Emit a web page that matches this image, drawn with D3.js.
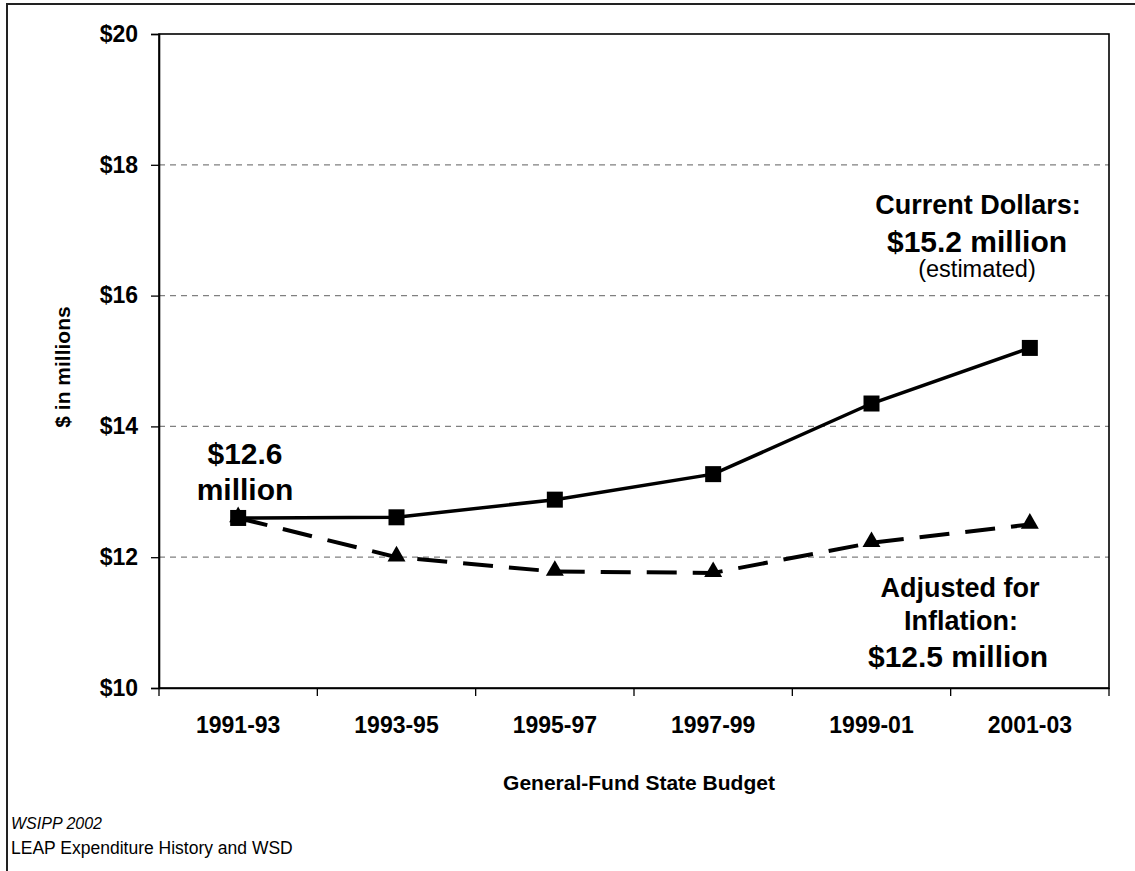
<!DOCTYPE html>
<html>
<head>
<meta charset="utf-8">
<script src="https://cdn.jsdelivr.net/npm/d3@7"></script>
<style>
  html, body { margin: 0; padding: 0; background: #fff; }
  svg { display: block; font-family: Arial, "Liberation Sans", Helvetica, sans-serif; }
</style>
</head>
<body>
<svg id="chart" width="1135" height="871"></svg>
<script>
// Biennial budget periods
const categories = ["1991-93", "1993-95", "1995-97", "1997-99", "1999-01", "2001-03"];
// Spending in current dollars ($ millions)
const currentDollars = [12.6, 12.61, 12.88, 13.27, 14.35, 15.2];
// Spending adjusted for inflation ($ millions)
const adjustedDollars = [12.6, 12.0, 11.78, 11.76, 12.22, 12.5];
// Value axis ticks
const yTicks = [10, 12, 14, 16, 18, 20];

const svg = d3.select("#chart");
const W = 1135, H = 871;
const plot = { left: 159, right: 1109, top: 34, bottom: 688 };

// Outer frame
svg.append("rect")
  .attr("x", 7).attr("y", 4)
  .attr("width", W + 20).attr("height", H + 20)
  .attr("fill", "none").attr("stroke", "#222").attr("stroke-width", 2);

const x = d3.scaleBand().domain(categories).range([plot.left, plot.right]);
const cx = d => x(d) + x.bandwidth() / 2;
const y = d3.scaleLinear().domain([10, 20]).range([plot.bottom, plot.top]);

// Dashed gridlines
svg.append("g").selectAll("line")
  .data(yTicks.filter(t => t > 10 && t < 20))
  .join("line")
  .attr("x1", plot.left).attr("x2", plot.right)
  .attr("y1", d => y(d)).attr("y2", d => y(d))
  .attr("stroke", "#808080").attr("stroke-width", 1.3)
  .attr("stroke-dasharray", "6,5");

// Plot area border
svg.append("rect")
  .attr("x", plot.left).attr("y", plot.top)
  .attr("width", plot.right - plot.left).attr("height", plot.bottom - plot.top)
  .attr("fill", "none").attr("stroke", "#000").attr("stroke-width", 1.6);

// Y axis
const yAxis = svg.append("g")
  .attr("transform", `translate(${plot.left},0)`)
  .call(d3.axisLeft(y).tickValues(yTicks).tickFormat(d => "$" + d).tickSize(8).tickPadding(13));
yAxis.select(".domain").attr("stroke", "#000").attr("stroke-width", 1.6);
yAxis.selectAll(".tick line").attr("stroke", "#000").attr("stroke-width", 1.3);
yAxis.selectAll(".tick text")
  .attr("font-size", 23).attr("font-weight", "bold").attr("fill", "#000")
  .attr("font-family", "Arial, 'Liberation Sans', sans-serif");

// X axis: labels at band centres, tick marks at band boundaries
const xAxis = svg.append("g")
  .attr("transform", `translate(0,${plot.bottom})`)
  .call(d3.axisBottom(x).tickSize(0).tickPadding(29));
xAxis.select(".domain").attr("stroke", "#000").attr("stroke-width", 1.6);
xAxis.selectAll(".tick text")
  .attr("font-size", 23).attr("font-weight", "bold").attr("fill", "#000")
  .attr("font-family", "Arial, 'Liberation Sans', sans-serif");
const boundaries = categories.map(c => x(c)).concat([x(categories[categories.length - 1]) + x.bandwidth()]);
svg.append("g").selectAll("line")
  .data(boundaries)
  .join("line")
  .attr("x1", d => d).attr("x2", d => d)
  .attr("y1", plot.bottom).attr("y2", plot.bottom + 8)
  .attr("stroke", "#000").attr("stroke-width", 1.3);

// Axis titles
svg.append("text")
  .attr("x", 639).attr("y", 790)
  .attr("text-anchor", "middle").attr("font-size", 21).attr("font-weight", "bold")
  .text("General-Fund State Budget");
svg.append("text")
  .attr("transform", "translate(70,367) rotate(-90)")
  .attr("text-anchor", "middle").attr("font-size", 21).attr("font-weight", "bold")
  .text("$ in millions");

// Series lines
const line = d3.line().x((d, i) => cx(categories[i])).y(d => y(d));
svg.append("path")
  .datum(adjustedDollars)
  .attr("d", line)
  .attr("fill", "none").attr("stroke", "#000").attr("stroke-width", 4)
  .attr("stroke-dasharray", "30,16");
svg.append("path")
  .datum(currentDollars)
  .attr("d", line)
  .attr("fill", "none").attr("stroke", "#000").attr("stroke-width", 3.5);

// Markers
const tri = d3.symbol().type(d3.symbolTriangle).size(140);
svg.append("g").selectAll("path")
  .data(adjustedDollars)
  .join("path")
  .attr("d", tri)
  .attr("transform", (d, i) => `translate(${cx(categories[i])},${y(d) - 1})`)
  .attr("fill", "#000");
const sq = 16;
svg.append("g").selectAll("rect")
  .data(currentDollars)
  .join("rect")
  .attr("x", (d, i) => cx(categories[i]) - sq / 2)
  .attr("y", d => y(d) - sq / 2)
  .attr("width", sq).attr("height", sq)
  .attr("fill", "#000");

// Annotations
const fmt = v => "$" + v.toFixed(1);
const ann = svg.append("g").attr("fill", "#000").attr("text-anchor", "middle").attr("font-weight", "bold");
ann.append("text").attr("x", 245).attr("y", 464).attr("font-size", 30).text(fmt(currentDollars[0]));
ann.append("text").attr("x", 245).attr("y", 500).attr("font-size", 30).text("million");

ann.append("text").attr("x", 978).attr("y", 214).attr("font-size", 27).text("Current Dollars:");
ann.append("text").attr("x", 977).attr("y", 252).attr("font-size", 30).text(fmt(currentDollars[currentDollars.length - 1]) + " million");
ann.append("text").attr("x", 977).attr("y", 277).attr("font-size", 23.5).attr("font-weight", "normal").text("(estimated)");

ann.append("text").attr("x", 960).attr("y", 597).attr("font-size", 27).text("Adjusted for");
ann.append("text").attr("x", 961).attr("y", 630).attr("font-size", 27).text("Inflation:");
ann.append("text").attr("x", 958).attr("y", 667).attr("font-size", 30).text(fmt(adjustedDollars[adjustedDollars.length - 1]) + " million");

// Source notes
svg.append("text").attr("x", 11).attr("y", 829).attr("font-size", 16).attr("font-style", "italic").text("WSIPP 2002");
svg.append("text").attr("x", 11).attr("y", 854).attr("font-size", 17.5).text("LEAP Expenditure History and WSD");
</script>
</body>
</html>
